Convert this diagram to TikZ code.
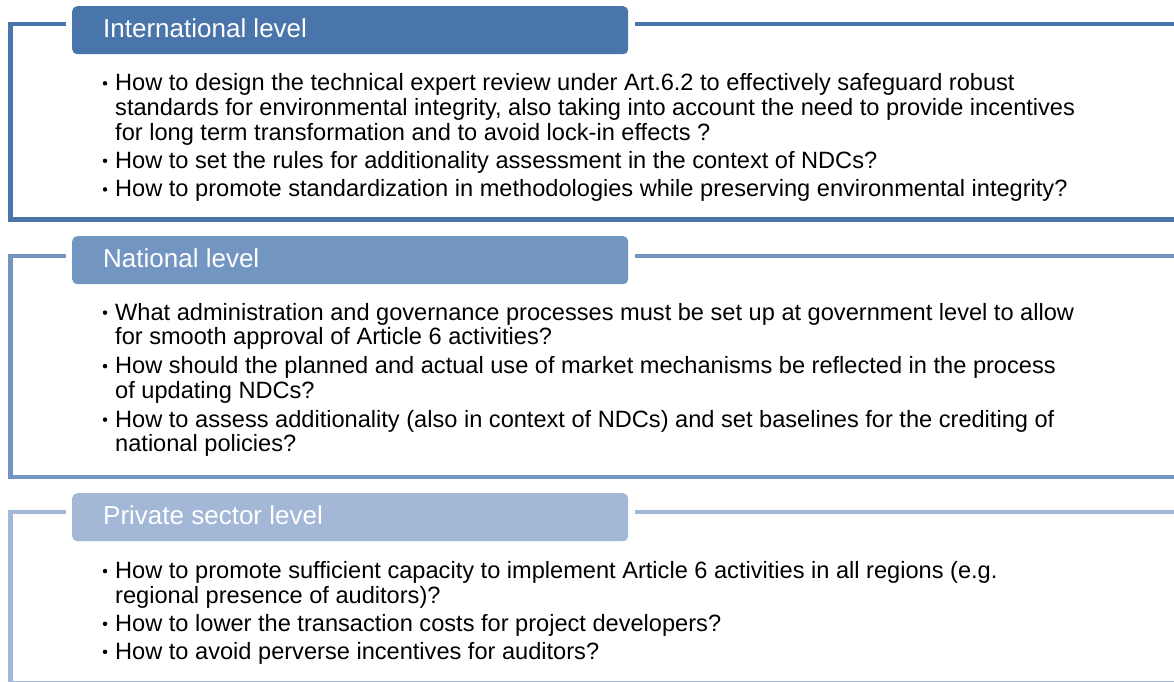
\documentclass[tikz,border=0pt]{standalone}
\usepackage{fontspec}
\setmainfont{Liberation Sans}
\definecolor{cA}{RGB}{74,117,171}
\definecolor{cB}{RGB}{115,149,194}
\definecolor{cC}{RGB}{163,183,214}
\tikzset{
  frameline/.style={line width=4.5pt, line join=miter, line cap=butt},
  hdrbox/.style={rounded corners=5pt, draw=none, inner sep=0pt, minimum width=556pt, minimum height=48pt, anchor=north west},
  hdrtext/.style={anchor=base west, inner sep=0pt, text=white, font=\fontsize{26}{28}\selectfont},
  bodytext/.style={anchor=base west, inner sep=0pt, font=\fontsize{23.6}{25}\selectfont},
  bul/.style={circle, fill=black, draw=none, inner sep=0pt, minimum size=4.5pt},
}
\begin{document}
\begin{tikzpicture}[x=1pt,y=-1pt]
\useasboundingbox[fill=white] (0,0) rectangle (1174,681);

% ---------- Panel 1 ----------
\draw[frameline, cA] (66,24) -- (10.5,24) -- (10.5,219.5) -- (1180,219.5);
\draw[frameline, cA] (635,24) -- (1180,24);
\node[hdrbox, fill=cA] (h1) at (72,6) {};
\node[hdrtext] (h1t) at (103,37) {International level};

\node[bul] (d11) at (105,83.3) {};
\node[bodytext] (t111) at (115,90.7) {How to design the technical expert review under Art.6.2 to effectively safeguard robust};
\node[bodytext] (t112) at (115,115.4) {standards for environmental integrity, also taking into account the need to provide incentives};
\node[bodytext] (t113) at (115,140.1) {for long term transformation and to avoid lock-in effects ?};
\node[bul] (d12) at (105,160.8) {};
\node[bodytext] (t121) at (115,168.2) {How to set the rules for additionality assessment in the context of NDCs?};
\node[bul] (d13) at (105,189.4) {};
\node[bodytext] (t131) at (115,196.8) {How to promote standardization in methodologies while preserving environmental integrity?};

% ---------- Panel 2 ----------
\draw[frameline, cB] (66,256) -- (10.5,256) -- (10.5,477) -- (1180,477);
\draw[frameline, cB] (635,256) -- (1180,256);
\node[hdrbox, fill=cB] (h2) at (72,236) {};
\node[hdrtext] (h2t) at (103,267) {National level};

\node[bul] (d21) at (105,312.6) {};
\node[bodytext] (t211) at (115,320) {What administration and governance processes must be set up at government level to allow};
\node[bodytext] (t212) at (115,344.7) {for smooth approval of Article 6 activities?};
\node[bul] (d22) at (105,366.1) {};
\node[bodytext] (t221) at (115,373.5) {How should the planned and actual use of market mechanisms be reflected in the process};
\node[bodytext] (t222) at (115,398.2) {of updating NDCs?};
\node[bul] (d23) at (105,419.6) {};
\node[bodytext] (t231) at (115,427) {How to assess additionality (also in context of NDCs) and set baselines for the crediting of};
\node[bodytext] (t232) at (115,451.7) {national policies?};

% ---------- Panel 3 ----------
\draw[frameline, cC] (66,512) -- (10.5,512) -- (10.5,683) -- (1180,683);
\draw[frameline, cC] (635,512) -- (1180,512);
\node[hdrbox, fill=cC] (h3) at (72,493) {};
\node[hdrtext] (h3t) at (103,524) {Private sector level};

\node[bul] (d31) at (105,571.1) {};
\node[bodytext] (t311) at (115,578.5) {How to promote sufficient capacity to implement Article 6 activities in all regions (e.g.};
\node[bodytext] (t312) at (115,603.2) {regional presence of auditors)?};
\node[bul] (d32) at (105,623.8) {};
\node[bodytext] (t321) at (115,631.2) {How to lower the transaction costs for project developers?};
\node[bul] (d33) at (105,651.8) {};
\node[bodytext] (t331) at (115,659.2) {How to avoid perverse incentives for auditors?};
\end{tikzpicture}
\end{document}
